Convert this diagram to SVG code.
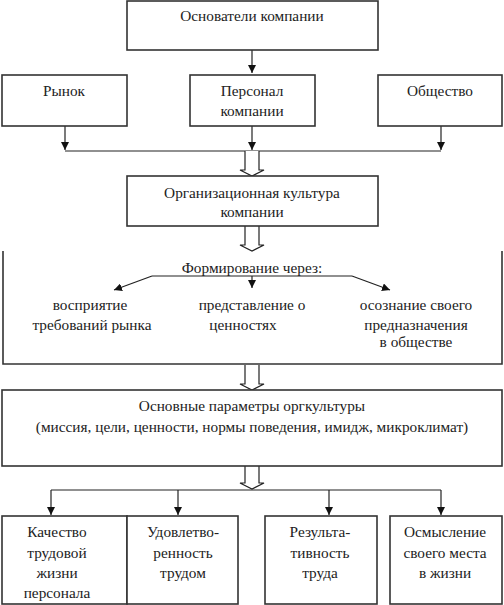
<svg xmlns="http://www.w3.org/2000/svg" width="504" height="605" viewBox="0 0 504 605">
<defs>
<marker id="ah" viewBox="0 0 10 10" refX="10" refY="5" markerWidth="8" markerHeight="8" markerUnits="userSpaceOnUse" orient="auto">
<path d="M0,0 L10,5 L0,10 z" fill="#111"/>
</marker>
<style>
.box{fill:#fff;stroke:#333;stroke-width:1.6}
.ln{fill:none;stroke:#222;stroke-width:1.2}
.hol{fill:#fff;stroke:#222;stroke-width:1.2}
.t{font-size:15.3px;fill:#222;text-anchor:middle}
</style>
</defs>
<rect width="504" height="605" fill="#fff"/>

<g id="connectors">
<path class="ln" d="M252,50 V73" marker-end="url(#ah)"/>
<path class="ln" d="M65,126 V150" marker-end="url(#ah)"/>
<path class="ln" d="M252,126 V150" marker-end="url(#ah)"/>
<path class="ln" d="M441,126 V150" marker-end="url(#ah)"/>
<path class="ln" d="M65,151 H441"/>
<path class="hol" d="M245,151 V170 H240 L252,176 L264,170 H259 V151"/>
<path class="hol" d="M245,226 V245 H240 L252,251 L264,245 H259 V226"/>
<path class="ln" d="M152,276 H352"/>
<path class="ln" d="M152,276 L114,290" marker-end="url(#ah)"/>
<path class="ln" d="M252,276 V288" marker-end="url(#ah)"/>
<path class="ln" d="M352,276 L390,290" marker-end="url(#ah)"/>
<path class="hol" d="M245,365 V384 H240 L252,390 L264,384 H259 V365"/>
<path class="hol" d="M245,466 V483 H240 L252,489 L264,483 H259 V466"/>
<path class="ln" d="M51,490 H441"/>
<path class="ln" d="M51,490 V515" marker-end="url(#ah)"/>
<path class="ln" d="M178,490 V515" marker-end="url(#ah)"/>
<path class="ln" d="M329,490 V515" marker-end="url(#ah)"/>
<path class="ln" d="M441,490 V515" marker-end="url(#ah)"/>
</g>

<g font-family="'Liberation Serif', 'DejaVu Serif', serif">
<g id="n-founders">
<rect class="box" x="127" y="1" width="251" height="49"/>
<text class="t" x="252" y="21">Основатели компании</text>
</g>
<g id="n-market">
<rect class="box" x="2" y="75" width="125" height="51"/>
<text class="t" x="64" y="96">Рынок</text>
</g>
<g id="n-staff">
<rect class="box" x="190" y="75" width="125" height="51"/>
<text class="t" x="252" y="96">Персонал</text>
<text class="t" x="252" y="116">компании</text>
</g>
<g id="n-society">
<rect class="box" x="378" y="75" width="124" height="51"/>
<text class="t" x="440" y="96">Общество</text>
</g>
<g id="n-culture">
<rect class="box" x="127" y="176" width="251" height="50"/>
<text class="t" x="252" y="198">Организационная культура</text>
<text class="t" x="252" y="217">компании</text>
</g>
<g id="n-forming">
<path class="ln" d="M3,251 V364 H502 V251" style="stroke:#333;stroke-width:1.6"/>
<text class="t" x="252" y="273">Формирование через:</text>
</g>
<g id="n-perception">
<text class="t" x="90" y="310">восприятие</text>
<text class="t" x="92" y="330">требований рынка</text>
</g>
<g id="n-values">
<text class="t" x="252" y="310">представление о</text>
<text class="t" x="243" y="330">ценностях</text>
</g>
<g id="n-purpose">
<text class="t" x="416" y="310">осознание своего</text>
<text class="t" x="416" y="330">предназначения</text>
<text class="t" x="416" y="347">в обществе</text>
</g>
<g id="n-params">
<rect class="box" x="2" y="390" width="500" height="76"/>
<text class="t" x="252" y="411">Основные параметры оргкультуры</text>
<text class="t" x="252" y="432">(миссия, цели, ценности, нормы поведения, имидж, микроклимат)</text>
</g>
<g id="n-quality">
<rect class="box" x="2" y="516" width="125" height="88"/>
<text class="t" x="57" y="537">Качество</text>
<text class="t" x="57" y="558">трудовой</text>
<text class="t" x="57" y="578">жизни</text>
<text class="t" x="57" y="598">персонала</text>
</g>
<g id="n-satisfaction">
<rect class="box" x="127" y="516" width="111" height="88"/>
<text class="t" x="183" y="537">Удовлетво-</text>
<text class="t" x="183" y="558">ренность</text>
<text class="t" x="183" y="578">трудом</text>
</g>
<g id="n-result">
<rect class="box" x="265" y="516" width="112" height="88"/>
<text class="t" x="320" y="537">Результа-</text>
<text class="t" x="320" y="558">тивность</text>
<text class="t" x="320" y="578">труда</text>
</g>
<g id="n-meaning">
<rect class="box" x="390" y="516" width="112" height="88"/>
<text class="t" x="445" y="537">Осмысление</text>
<text class="t" x="445" y="558">своего места</text>
<text class="t" x="445" y="578">в жизни</text>
</g>
</g>
</svg>
